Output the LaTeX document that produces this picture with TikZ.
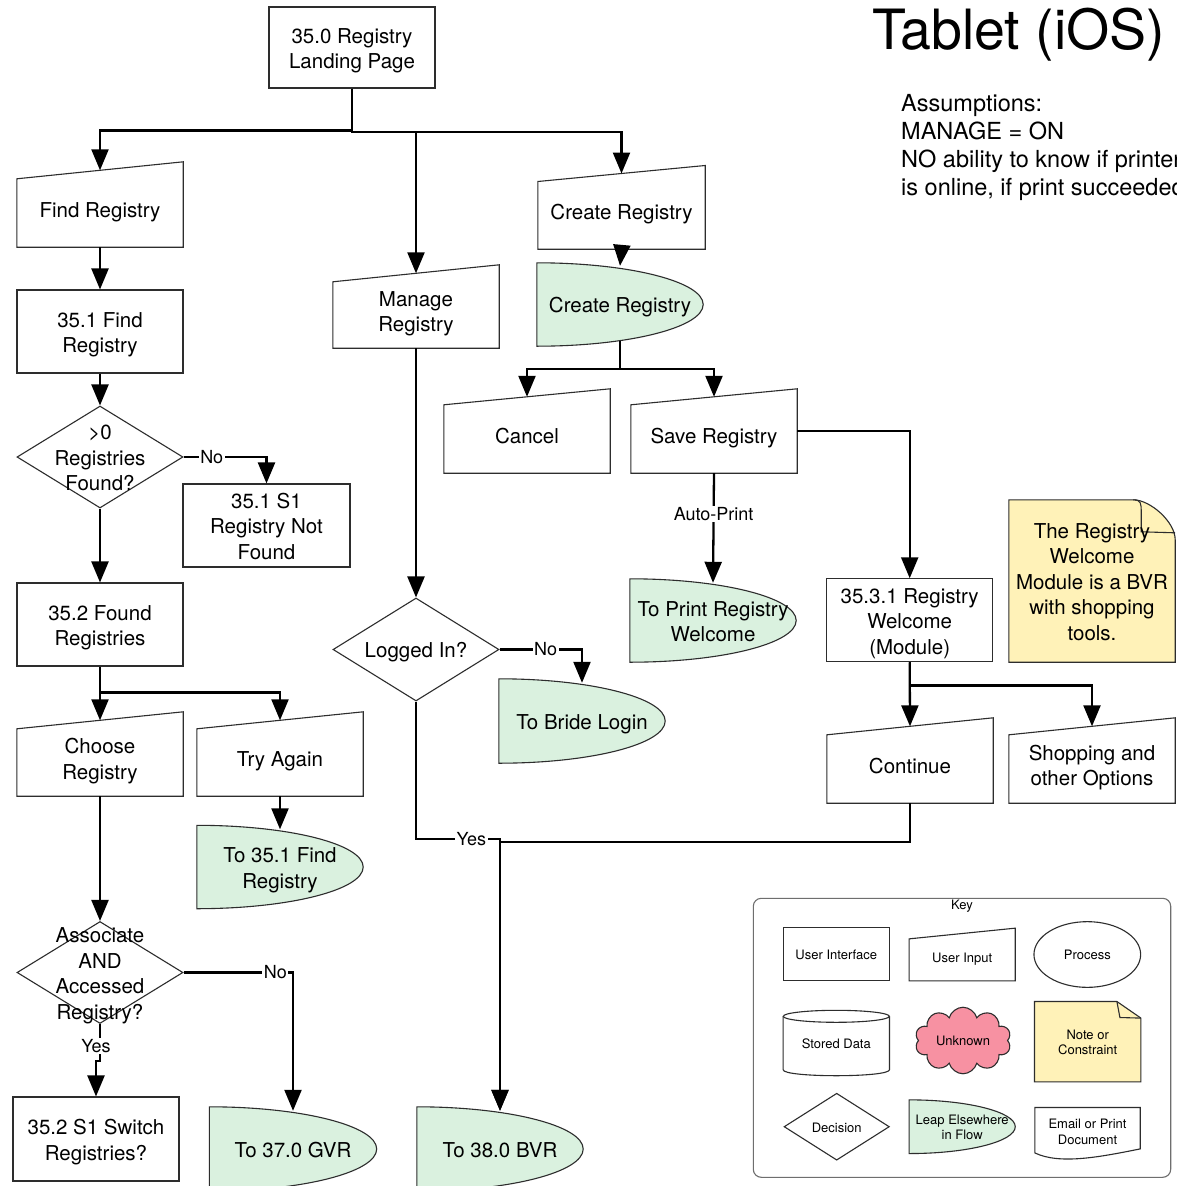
\documentclass[tikz,border=0pt]{standalone}
\usepackage{fontspec}
\setmainfont{TeX Gyre Heros}
\usetikzlibrary{arrows.meta,calc,shapes.geometric,shapes.symbols,backgrounds}
\definecolor{leapgreen}{RGB}{218,241,223}
\definecolor{noteyellow}{RGB}{255,242,184}
\definecolor{cloudpink}{RGB}{247,145,162}
\definecolor{bordergray}{RGB}{45,45,45}
\definecolor{keygray}{RGB}{110,110,110}
\newcommand\mainfs{\fontsize{20.5pt}{25.5pt}\selectfont}
\newcommand\lblfs{\fontsize{18pt}{21pt}\selectfont}
\newcommand\keyfs{\fontsize{13pt}{15.7pt}\selectfont}
\newcommand\titlefs{\fontsize{55.5pt}{62pt}\selectfont}
\newcommand\assfs{\fontsize{23.5pt}{28pt}\selectfont}
\newcommand\mtop{\rule{0pt}{21.8pt}}
\newcommand\mbot{\rule[-5pt]{0pt}{5pt}}
\newcommand\ktop{\rule{0pt}{13.9pt}}
\newcommand\kbot{\rule[-3.2pt]{0pt}{3.2pt}}
\tikzset{
  shapeline/.style={draw=bordergray, line width=1.1pt},
  mtext/.style={align=center, font=\mainfs, execute at begin node=\mtop, execute at end node=\mbot},
  ktext/.style={align=center, font=\keyfs, execute at begin node=\ktop, execute at end node=\kbot},
  uibox/.style={shapeline, rectangle, inner sep=0pt, mtext},
  inbox/.style={rectangle, inner sep=0pt, mtext},
  leapbox/.style={rectangle, inner sep=0pt, mtext},
  decision/.style={diamond, shapeline, inner sep=0pt},
  dtext/.style={mtext, inner sep=0pt},
  flow/.style={line width=2.3pt, -{Triangle[length=21pt,width=17pt]}},
  lbl/.style={fill=white, inner sep=1.5pt, font=\lblfs},
}
\newcommand\drawInput[2]{%
  \begin{pgfonlayer}{background}
  \draw[shapeline, fill=white] (#1.south west) -- ($(#1.north west)+(0,#2/2)$) -- ($(#1.north east)-(0,#2/2)$) -- (#1.south east) -- cycle;
  \end{pgfonlayer}}
\newcommand\drawLeap[1]{%
  \begin{pgfonlayer}{background}
  \draw[shapeline, fill=leapgreen] (#1.north west) .. controls ($(#1.north west)!0.552!(#1.north east)$) and ($(#1.east)!0.552!(#1.north east)$) .. (#1.east) .. controls ($(#1.east)!0.552!(#1.south east)$) and ($(#1.south west)!0.552!(#1.south east)$) .. (#1.south west) -- cycle;
  \end{pgfonlayer}}
\begin{document}
\begin{tikzpicture}[x=1pt,y=-1pt]
\useasboundingbox (0,0) rectangle (1177,1186);
\begin{pgfonlayer}{background}
\fill[white] (0,0) rectangle (1177,1186);
\end{pgfonlayer}
\clip (0,0) rectangle (1177,1186);

% ---------- title and assumptions
\node[anchor=base west, font=\titlefs, inner sep=0pt] (title) at (872,49) {Tablet (iOS)};
\node[anchor=north west, align=left, font=\assfs, inner sep=0pt] (assume) at (901,94)
  {Assumptions:\\MANAGE = ON\\NO ability to know if printer\\is online, if print succeeded};

% ---------- user interface boxes
\node[uibox, minimum width=166pt, minimum height=81pt] (n350) at (352,47.5) {\mtop 35.0 Registry\\Landing Page};
\node[uibox, minimum width=166pt, minimum height=83pt] (n351) at (100,331.5) {\mtop 35.1 Find\\Registry};
\node[uibox, minimum width=167pt, minimum height=83pt] (n351s1) at (266.5,525.5) {\mtop 35.1 S1\\Registry Not\\Found};
\node[uibox, minimum width=166pt, minimum height=83pt] (n352) at (100,624.5) {\mtop 35.2 Found\\Registries};
\node[uibox, minimum width=166pt, minimum height=84pt] (n352s1) at (96,1139) {\mtop 35.2 S1 Switch\\Registries?};
\node[uibox, minimum width=166pt, minimum height=83pt] (n3531) at (909.7,620.3) {\mtop 35.3.1 Registry\\Welcome\\(Module)};

% ---------- user input boxes
\node[inbox, minimum width=166pt, minimum height=76.5pt] (findreg) at (100,208.75) {Find Registry};
\drawInput{findreg}{17}
\node[inbox, minimum width=166pt, minimum height=74.5pt] (managereg) at (416,310.75) {\mtop Manage\\Registry};
\drawInput{managereg}{17}
\node[inbox, minimum width=167pt, minimum height=75.3pt] (createin) at (621.5,211.35) {Create Registry};
\drawInput{createin}{16}
\node[inbox, minimum width=166pt, minimum height=76pt] (cancel) at (527,435) {Cancel};
\drawInput{cancel}{16}
\node[inbox, minimum width=166pt, minimum height=76pt] (save) at (714,435) {Save Registry};
\drawInput{save}{16}
\node[inbox, minimum width=166pt, minimum height=75.5pt] (choose) at (100,758.25) {\mtop Choose\\Registry};
\drawInput{choose}{17}
\node[inbox, minimum width=166pt, minimum height=75.5pt] (tryagain) at (280,758.25) {Try Again};
\drawInput{tryagain}{17}
\node[inbox, minimum width=166pt, minimum height=76.5pt] (continue) at (910,764.75) {Continue};
\drawInput{continue}{17}
\node[inbox, minimum width=166pt, minimum height=76.5pt] (shopping) at (1092,764.75) {\mtop Shopping and\\other Options};
\drawInput{shopping}{17}

% ---------- leap elsewhere shapes
\node[leapbox, minimum width=166pt, minimum height=83pt] (createleap) at (620,304.5) {Create Registry};
\drawLeap{createleap}
\node[leapbox, minimum width=166pt, minimum height=83pt] (printleap) at (713,620.5) {\mtop To Print Registry\\Welcome};
\drawLeap{printleap}
\node[leapbox, minimum width=166pt, minimum height=84pt] (brideleap) at (582,721) {To Bride Login};
\drawLeap{brideleap}
\node[leapbox, minimum width=166pt, minimum height=83pt] (find351leap) at (280,867) {\mtop To 35.1 Find\\Registry};
\drawLeap{find351leap}
\node[leapbox, minimum width=167pt, minimum height=84pt] (gvr) at (293,1149) {To 37.0 GVR};
\drawLeap{gvr}
\node[leapbox, minimum width=166pt, minimum height=84pt] (bvr) at (500,1149) {To 38.0 BVR};
\drawLeap{bvr}

% ---------- decisions
\node[decision, minimum width=166pt, minimum height=102pt,
      label={[dtext]center:{\mtop >0\\Registries\\Found?}}] (d1) at (100,457) {};
\node[decision, minimum width=166pt, minimum height=103pt,
      label={[dtext]center:{Logged In?}}] (login) at (416,649.5) {};
\node[decision, minimum width=166pt, minimum height=102pt,
      label={[dtext]center:{\mtop Associate\\AND\\Accessed\\Registry?}}] (d2) at (100,972.5) {};

% ---------- note
\node[inbox, minimum width=166pt, minimum height=162pt] (note) at (1092,581) {\mtop The Registry\\Welcome\\Module is a BVR\\with shopping\\tools.};
\begin{pgfonlayer}{background}
\draw[shapeline, fill=noteyellow] (note.south west) -- (note.north west) -- ($(note.north east)+(-42,0)$)
  .. controls ($(note.north east)+(-25,0)$) and ($(note.north east)+(0,22)$) .. ($(note.north east)+(0,40)$)
  -- (note.south east) -- cycle;
\draw[shapeline] ($(note.north east)+(-42,0)$) .. controls ($(note.north east)+(-34,0)$) and ($(note.north east)+(-34,4)$) .. ($(note.north east)+(-34,12)$)
  -- ($(note.north east)+(-34,32)$) -- ($(note.north east)+(0,33)$);
\end{pgfonlayer}

% ---------- junction points
\coordinate (j1) at (500,839);
\coordinate (j2) at (500,842);

% ---------- connectors
\draw[flow] (n350.south) -- ++(0,42) -| (findreg.north);
\draw[flow] (n350.south) -- ++(0,43.5) -| (createin.north);
\draw[flow] (n350.south) -- ++(0,43.5) -| (managereg.north);
\draw[flow] (findreg.south) -- (n351.north);
\draw[flow] (n351.south) -- (d1.north);
\draw[flow] (d1.east) -| node[lbl, pos=0.17]{No} (n351s1.north);
\draw[flow] (d1.south) -- (n352.north);
\draw[flow] (n352.south) -- (choose.north);
\draw[flow] (n352.south) -- ++(0,26) -| (tryagain.north);
\draw[flow] (tryagain.south) -- ($(find351leap.north)+(0,4)$);
\draw[flow] (choose.south) -- (d2.north);
\draw[flow] (d2.east) -| node[lbl, pos=0.42]{No} ($(gvr.north)+(0,4)$);
\draw[flow] (d2.south) -- node[lbl, pos=0.6, xshift=-4pt]{Yes} ++(0,37) -| (n352s1.north);
\draw[flow] (managereg.south) -- (login.north);
\draw[flow] (login.east) -| node[lbl, pos=0.28]{No} ($(brideleap.north)+(0,4)$);
\draw[flow] (login.south) |- node[lbl, pos=0.83]{Yes} (j1) -- ($(bvr.north)+(0,4)$);
\draw[flow] (continue.south) |- (j2) -- ($(bvr.north)+(0,4)$);
\draw[flow] (createin.south) -- ($(createleap.north)+(0,3)$);
\draw[flow] ($(createleap.south)+(0,-5.5)$) -- ++(0,28.5) -| (cancel.north);
\draw[flow] ($(createleap.south)+(0,-5.5)$) -- ++(0,28.5) -| (save.north);
\draw[flow] ($(save.east)+(0,-4)$) -| (n3531.north);
\draw[flow] (save.south) -- node[lbl, pos=0.37]{Auto-Print} ($(printleap.north)+(0,4)$);
\draw[flow] (n3531.south) -- (continue.north);
\draw[flow] (n3531.south) -- ++(0,23) -| (shopping.north);

% ---------- key
\node[draw=keygray, line width=1.1pt, rounded corners=8pt, minimum width=417.4pt, minimum height=279pt, inner sep=0pt] (keybox) at (962,1037.8) {};
\node[font=\keyfs, inner sep=0pt] (keytitle) at (962,906) {Key};
\node[shapeline, rectangle, inner sep=0pt, ktext, minimum width=106pt, minimum height=53pt] (kui) at (836.3,954.2) {User Interface};
\node[rectangle, inner sep=0pt, ktext, minimum width=105.7pt, minimum height=47pt] (kinput) at (962.2,957.2) {User Input};
\drawInput{kinput}{10.7}
\node[ellipse, shapeline, ktext, inner sep=0pt, minimum width=106.7pt, minimum height=65.7pt] (kprocess) at (1087.3,954.5) {Process};
\node[rectangle, inner sep=0pt, ktext, minimum width=106pt, minimum height=65pt] (kstored) at (836.3,1043) {Stored Data};
\begin{pgfonlayer}{background}
\draw[shapeline] ($(kstored.north west)+(0,6)$) -- ($(kstored.south west)+(0,-6)$)
  .. controls +(0,8) and +(0,8) .. ($(kstored.south east)+(0,-6)$) -- ($(kstored.north east)+(0,6)$);
\draw[shapeline] ($(kstored.north)+(0,6)$) ellipse [x radius=53pt, y radius=6pt];
\end{pgfonlayer}
\node[cloud, cloud puffs=10, aspect=1.5, shapeline, fill=cloudpink, ktext, inner sep=0pt, minimum width=96pt, minimum height=64pt] (kunknown) at (963,1040.5) {Unknown};
\node[rectangle, inner sep=0pt, ktext, minimum width=106pt, minimum height=80pt] (knote) at (1087.7,1041.7) {\ktop Note or\\Constraint};
\begin{pgfonlayer}{background}
\draw[shapeline, fill=noteyellow] (knote.south west) -- (knote.north west) -- ($(knote.north east)+(-24,0)$)
  -- ($(knote.north east)+(0,16.6)$) -- (knote.south east) -- cycle;
\draw[shapeline] ($(knote.north east)+(-24,0)$) -- ($(knote.north east)+(-21,16)$) -- ($(knote.north east)+(0,16.6)$);
\end{pgfonlayer}
\node[decision, ktext, minimum width=105.3pt, minimum height=65.3pt] (kdecision) at (836.7,1126.7) {Decision};
\node[rectangle, inner sep=0pt, ktext, minimum width=105.7pt, minimum height=53.3pt] (kleap) at (962.2,1126.7) {\ktop Leap Elsewhere\\in Flow};
\drawLeap{kleap}
\node[rectangle, inner sep=0pt, ktext, minimum width=105pt, minimum height=47pt] (kdoc) at (1087.5,1131.2) {\ktop Email or Print\\Document};
\begin{pgfonlayer}{background}
\draw[shapeline, fill=white] ($(kdoc.south west)+(0,-2)$) -- (kdoc.north west) -- (kdoc.north east) -- ($(kdoc.south east)+(0,-6)$)
  .. controls ($(kdoc.south east)+(-40,2)$) and ($(kdoc.south west)+(25,10)$) .. ($(kdoc.south west)+(0,-2)$) -- cycle;
\end{pgfonlayer}
\end{tikzpicture}
\end{document}
